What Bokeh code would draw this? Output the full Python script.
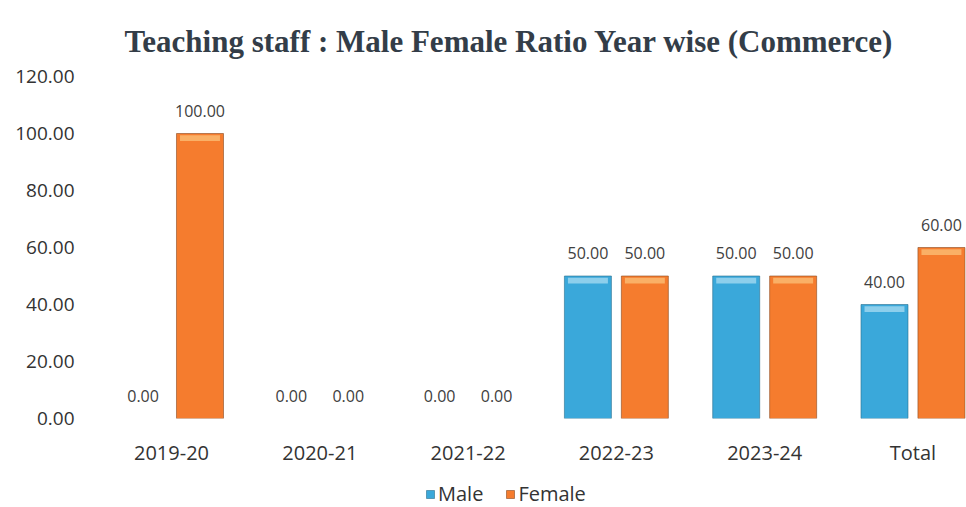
from bokeh.plotting import figure
from bokeh.layouts import column
from bokeh.models import ColumnDataSource, Range1d, FixedTicker, PrintfTickFormatter, Legend, LegendItem
from bokeh.core.properties import value
from bokeh.embed import file_html
from bokeh.resources import INLINE

categories = ["2019-20", "2020-21", "2021-22", "2022-23", "2023-24", "Total"]
male = [0.0, 0.0, 0.0, 50.0, 50.0, 40.0]
female = [100.0, 0.0, 0.0, 50.0, 50.0, 60.0]
y_ticks = [0, 20, 40, 60, 80, 100, 120]
series_names = ["Male", "Female"]

BLUE = "#3aa8da"
ORANGE = "#f57c2e"
BLUE_HI = "#a9dcf2"
ORANGE_HI = "#fbc27a"

OFF = 0.192
W = 0.317

idx = list(range(len(categories)))


def make_src(vals, sign):
    return ColumnDataSource(dict(
        x=[i + sign * OFF for i in idx], top=vals,
        la=[1.0 if v > 0 else 0.0 for v in vals],
        hi_top=[v - 0.6 if v > 0 else 0 for v in vals],
        hi_bot=[v - 2.6 if v > 0 else 0 for v in vals],
        lab=[f"{v:.2f}" for v in vals]))


src_m = make_src(male, -1)
src_f = make_src(female, 1)

p = figure(width=966, height=477, output_backend="svg", toolbar_location=None,
           x_range=Range1d(-0.479, 5.361), y_range=Range1d(0, 120),
           min_border_left=100, min_border_right=0, min_border_top=76,
           min_border_bottom=59)

p.title.text = "Teaching staff : Male Female Ratio Year wise (Commerce)"
p.title.text_font = "Liberation Serif"
p.title.text_font_style = "bold"
p.title.text_font_size = "31px"
p.title.text_color = "#333d48"
p.title.align = "left"
p.title.offset = 24
p.title.standoff = 35

p.vbar(x="x", top="top", width=W, bottom=0, source=src_m,
       fill_color=BLUE, line_color="#2a6f8f", line_width=0.6, line_alpha="la")
p.vbar(x="x", top="top", width=W, bottom=0, source=src_f,
       fill_color=ORANGE, line_color="#8a4a20", line_width=0.6, line_alpha="la")

for src, hi in ((src_m, BLUE_HI), (src_f, ORANGE_HI)):
    p.vbar(x="x", top="hi_top", bottom="hi_bot", width=W * 0.85, source=src,
           fill_color=hi, fill_alpha=0.75, line_color=None)

for src in (src_m, src_f):
    p.text(x="x", y="top", text="lab", source=src, text_align="center",
           text_baseline="bottom", y_offset=-17, text_font=value("Open Sans"),
           text_font_size="16px", text_color="#404040")

p.yaxis.ticker = FixedTicker(ticks=y_ticks)
p.yaxis.formatter = PrintfTickFormatter(format="%.2f")
p.xaxis.ticker = FixedTicker(ticks=idx)
p.xaxis.major_label_overrides = {i: c for i, c in zip(idx, categories)}

for ax in (p.xaxis, p.yaxis):
    ax.axis_line_color = None
    ax.major_tick_line_color = None
    ax.minor_tick_line_color = None
    ax.major_tick_out = 0
    ax.major_label_text_font = "Open Sans"
    ax.major_label_text_color = "#333333"

p.yaxis.major_label_text_font_size = "19px"
p.yaxis.major_label_standoff = 26
p.xaxis.major_label_text_font_size = "20px"
p.xaxis.major_label_standoff = 20

p.xgrid.grid_line_color = None
p.ygrid.grid_line_color = None
p.outline_line_color = None

# legend strip below the chart (its frame is aligned with the chart's frame)
leg = figure(width=966, height=30, output_backend="svg", toolbar_location=None,
             x_range=Range1d(0, 1), y_range=Range1d(0, 1),
             x_axis_type=None, y_axis_type=None,
             min_border_left=0, min_border_right=0, min_border_top=0,
             min_border_bottom=0)
leg.outline_line_color = None
leg.xgrid.grid_line_color = None
leg.ygrid.grid_line_color = None
# one off-range point each, so the legend has a glyph to draw
lm = leg.vbar(x=[5], top=[0.5], width=0.1, fill_color=BLUE, line_color="#2a6f8f", line_width=0.6)
lf = leg.vbar(x=[5], top=[0.5], width=0.1, fill_color=ORANGE, line_color="#8a4a20", line_width=0.6)

legend = Legend(items=[LegendItem(label=series_names[0], renderers=[lm], index=0),
                       LegendItem(label=series_names[1], renderers=[lf], index=0)],
                orientation="horizontal", location=(325, 0),
                label_text_font="Open Sans", label_text_font_size="20px",
                label_text_color="#333333", glyph_width=10, glyph_height=10,
                label_standoff=3, spacing=22, padding=0, margin=0,
                border_line_color=None, background_fill_alpha=0)
leg.add_layout(legend, "center")

open("out.html", "w").write(file_html(column(p, leg, spacing=0), INLINE))
